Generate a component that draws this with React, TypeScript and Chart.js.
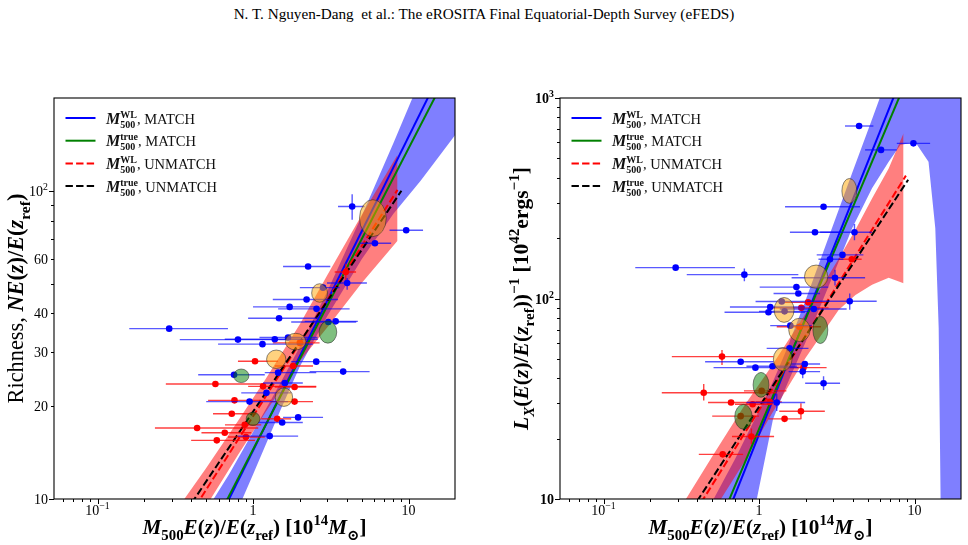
import { useEffect, useRef } from 'react';
import { Chart, registerables } from 'chart.js';

Chart.register(...registerables);

const SERIF = "'Liberation Serif', 'DejaVu Serif', serif";

// ---------- shared mass axis ----------
const massMin = 0.0525;
const massMax = 19.9;
const massMajorTicks = [0.1, 1, 10];
const massMinorTicks = [0.06, 0.07, 0.08, 0.09, 0.2, 0.3, 0.4, 0.5, 0.6, 0.7, 0.8, 0.9, 2, 3, 4, 5, 6, 7, 8, 9];

// ---------- richness panel ----------
const richMin = 10;
const richMax = 200;
const richMajorTicks = [10, 100];
const richMinorTicks = [20, 30, 40, 50, 60, 70, 80, 90];
const richTickLabels = [10, 20, 30, 40, 60, 100];

// matched clusters: M500 (WL) and richness
const richMatchM = [4.34, 9.66, 6.08, 2.26, 4.03, 2.21, 1.72, 2.56, 1.47, 3.05, 3.4, 0.289, 0.8, 1.38, 1.15, 2.82, 0.755, 1.45, 3.8, 2.55, 1.6, 1.22, 0.95, 1.95, 1.54, 1.28, 1.68];
const richMatchN = [88.9, 74.5, 67.6, 56.8, 50.2, 44.4, 42.0, 41.4, 38.6, 37.5, 37.7, 35.7, 32.9, 33.0, 31.8, 48.5, 25.3, 25.7, 25.9, 27.9, 23.8, 22.1, 20.7, 18.4, 17.7, 16.0, 33.4];
const richMatchMLo = [3.52, 7.55, 4.84, 1.56, 2.99, 1.34, 1.0, 1.45, 0.93, 1.76, 2.15, 0.16, 0.338, 0.658, 0.596, 2.0, 0.444, 1.19, 2.31, 1.76, 1.16, 0.84, 0.5, 1.56, 1.08, 0.8, 1.1];
const richMatchMHi = [5.21, 12.4, 7.73, 3.14, 5.4, 3.52, 2.49, 4.18, 2.61, 4.61, 4.72, 0.69, 1.68, 2.61, 2.43, 3.6, 1.19, 2.55, 5.62, 3.69, 2.09, 1.76, 1.68, 2.82, 2.09, 1.95, 2.6];
const richMatchNErr = [[80.5, 97.5], null, null, null, [47.7, 52.1], null, null, null, null, null, null, null, null, null, null, null, null, null, null, null, null, null, null, null, null, null, null];

// unmatched clusters
const richUnmM = [3.95, 1.03, 1.81, 0.573, 1.16, 1.85, 0.76, 1.85, 0.73, 1.43, 0.437, 0.885, 0.658, 0.585, 0.9, 2.0];
const richUnmN = [54.5, 28.0, 27.0, 23.6, 23.2, 23.1, 20.9, 20.7, 18.9, 18.2, 17.0, 17.4, 16.4, 15.5, 15.9, 32.1];
const richUnmMLo = [3.35, 0.8, 1.38, 0.275, 0.93, 1.38, 0.514, 1.31, 0.553, 1.13, 0.234, 0.66, 0.466, 0.4, 0.69, 1.34];
const richUnmMHi = [4.6, 1.45, 2.43, 1.19, 2.55, 2.55, 1.31, 2.43, 1.05, 1.76, 1.08, 1.13, 0.975, 1.03, 1.19, 2.68];
const richUnmNErr = [[51, 58], null, null, null, null, null, null, null, null, null, null, null, null, null, null, null];

// fitted relations
const richWLMatchX = [0.05, 20];
const richWLMatchY = [0.68, 303];
const richTrueMatchX = [0.05, 20];
const richTrueMatchY = [0.776, 270];
const richWLUnmX = [0.2, 8.5];
const richWLUnmY = [5.2, 100.7];
const richTrueUnmX = [0.2, 9.0];
const richTrueUnmY = [5.73, 100];

// credible bands
const richBandMatchX = [0.3, 0.5, 0.7, 1, 1.5, 2, 3, 5, 8, 12, 20];
const richBandMatchLo = [2.99, 5.4, 7.94, 12.0, 19.4, 26.9, 39.2, 60.0, 84.3, 108, 152];
const richBandMatchHi = [5.97, 9.16, 12.0, 16.5, 23.8, 31.2, 47.1, 82.8, 143, 232, 438];
const richBandUnmX = [0.2, 0.35, 0.5, 0.8, 1.2, 2, 3, 5, 8.5];
const richBandUnmLo = [4.45, 7.08, 9.48, 13.9, 19.1, 28.0, 36.0, 50.2, 68.9];
const richBandUnmHi = [6.43, 9.77, 12.6, 17.9, 24.4, 36.9, 53.2, 83.4, 131];

// stacked mean ellipses (centre, half-extent in dex)
const richOrangeM = [5.9, 2.68, 1.88, 1.41, 1.58];
const richOrangeN = [81.5, 46.6, 32.4, 28.4, 21.4];
const richOrangeDM = [0.086, 0.051, 0.066, 0.062, 0.056];
const richOrangeDN = [0.06, 0.03, 0.027, 0.03, 0.03];
const richGreenM = [3.03, 0.84, 1.0];
const richGreenN = [34.8, 25.1, 18.2];
const richGreenDM = [0.057, 0.049, 0.044];
const richGreenDN = [0.036, 0.022, 0.022];

// ---------- luminosity panel ----------
const lxMin = 10;
const lxMax = 1000;
const lxMajorTicks = [10, 100, 1000];
const lxMinorTicks = [20, 30, 40, 50, 60, 70, 80, 90, 200, 300, 400, 500, 600, 700, 800, 900];
const lxTickLabels = [10, 100, 1000];

const lxMatchM = [4.4, 9.84, 6.09, 2.6, 2.29, 4.11, 3.44, 2.86, 0.291, 0.805, 3.08, 1.74, 1.79, 3.83, 1.18, 2.25, 1.15, 1.59, 1.57, 0.762, 0.948, 1.22, 1.97, 1.91, 2.6, 1.3, 1.4, 1.46];
const lxMatchL = [725, 594, 551, 287, 214, 214, 165, 157, 142.5, 131.5, 127, 114, 106, 96.9, 90.7, 88.7, 85.4, 73.2, 56.4, 48.4, 45.2, 45.9, 47.1, 43.2, 37.8, 30.3, 96.6, 86.3];
const lxMatchMLo = [3.57, 7.69, 4.81, 1.47, 1.58, 2.47, 2.35, 2.41, 0.16, 0.343, 1.62, 1.01, 1.24, 2.03, 0.65, 1.36, 0.6, 1.18, 1.12, 0.45, 0.51, 0.83, 1.55, 1.55, 1.98, 0.83, 0.95, 1.0];
const lxMatchMHi = [5.44, 12.6, 7.69, 4.46, 3.32, 5.31, 4.69, 3.49, 0.7, 1.79, 4.81, 2.79, 2.47, 5.71, 1.98, 3.66, 1.98, 2.18, 2.08, 1.24, 1.79, 1.75, 2.47, 2.47, 3.32, 1.98, 2.0, 2.1];
const lxMatchLErr = [null, null, null, null, null, [195, 235], null, null, null, [122, 141], [116, 139], null, null, [88, 106], null, null, null, null, null, null, null, null, null, [40, 47], [35, 41], [27.5, 33.5], null, null];

const lxUnmM = [3.95, 2.07, 1.87, 1.82, 0.578, 1.93, 0.441, 0.661, 0.91, 1.17, 1.86, 1.46, 0.762, 0.893, 0.584, 1.04];
const lxUnmL = [157, 95.7, 89.8, 72.3, 51.3, 45.2, 33.9, 30.3, 29.7, 30.5, 27.4, 25.1, 25.9, 20.5, 16.7, 34.6];
const lxUnmMLo = [3.24, 1.36, 1.2, 1.3, 0.275, 1.58, 0.237, 0.47, 0.7, 0.95, 1.35, 1.15, 0.5, 0.67, 0.41, 0.8];
const lxUnmMHi = [4.57, 2.66, 2.8, 2.5, 1.24, 2.72, 1.3, 1.18, 1.2, 1.4, 2.65, 1.85, 1.0, 1.25, 0.79, 1.5];
const lxUnmLErr = [null, null, null, null, [46.6, 55.3], null, [31, 37.5], null, null, null, [25, 30], null, null, [18.8, 22.5], null, null];

const lxWLMatchX = [0.05, 20];
const lxWLMatchY = [0.062, 7080];
const lxTrueMatchX = [0.05, 20];
const lxTrueMatchY = [0.0914, 5450];
const lxWLUnmX = [0.2, 8.8];
const lxWLUnmY = [3.78, 410];
const lxTrueUnmX = [0.2, 9.1];
const lxTrueUnmY = [4.31, 391];

const lxBandMatchX = [0.3, 0.5, 0.7, 0.97, 1.23, 1.5, 2, 3, 3.97, 5.33, 6.82, 8.11, 10.1, 12.3, 13.6, 14.3, 14.7, 15, 20];
const lxBandMatchLo = [0.64, 1.93, 4.16, 10.1, 25, 36.6, 61, 131, 224, 355, 481, 583, 604, 481, 224, 71, 10.5, 1, 1];
const lxBandMatchHi = [4.5, 9.7, 15.8, 26.3, 38.5, 55.3, 99, 233, 422, 783, 1324, 10000, 10000, 10000, 10000, 10000, 10000, 10000, 10000];
const lxBandUnmX = [0.2, 0.35, 0.5, 0.8, 1.2, 2, 3.25, 4.17, 5.33, 6.82, 8.5];
const lxBandUnmLo = [2.68, 5.48, 8.53, 15.2, 26.4, 50.8, 87.7, 104, 117, 127, 119];
const lxBandUnmHi = [5.34, 10.4, 16.3, 29.0, 45.8, 84.3, 158, 220, 315, 445, 668];

const lxOrangeM = [3.81, 2.33, 1.45, 1.82, 1.42];
const lxOrangeL = [344, 128.5, 87.7, 69.7, 49.8];
const lxOrangeDM = [0.048, 0.075, 0.064, 0.069, 0.06];
const lxOrangeDL = [0.062, 0.058, 0.062, 0.058, 0.058];
const lxGreenM = [2.48, 1.03, 0.794];
const lxGreenL = [69.7, 37.1, 25.7];
const lxGreenDM = [0.048, 0.051, 0.056];
const lxGreenDL = [0.068, 0.062, 0.062];

// ---------- text helpers ----------
type Run = { t?: string; font: string; dy?: number; sup?: string; sub?: string; supDy?: number; subDy?: number };

const fnt = (style: string, size: number) => `${style} ${size}px ${SERIF}`;
const BI = (s: number) => fnt('italic bold', s);
const B = (s: number) => fnt('bold', s);
const R = (s: number) => fnt('normal', s);

function runsWidth(ctx: CanvasRenderingContext2D, runs: Run[]) {
  let w = 0;
  for (const r of runs) {
    ctx.font = r.font;
    if (r.sup !== undefined || r.sub !== undefined) {
      w += Math.max(ctx.measureText(r.sup || '').width, ctx.measureText(r.sub || '').width);
    } else {
      w += ctx.measureText(r.t || '').width;
    }
  }
  return w;
}

function drawRuns(ctx: CanvasRenderingContext2D, runs: Run[], x: number, y: number, align: 'left' | 'center' | 'right') {
  const w = runsWidth(ctx, runs);
  let cx = align === 'center' ? x - w / 2 : align === 'right' ? x - w : x;
  ctx.textAlign = 'left';
  ctx.textBaseline = 'alphabetic';
  for (const r of runs) {
    ctx.font = r.font;
    if (r.sup !== undefined || r.sub !== undefined) {
      ctx.fillText(r.sup || '', cx, y + (r.supDy || 0));
      ctx.fillText(r.sub || '', cx, y + (r.subDy || 0));
      cx += Math.max(ctx.measureText(r.sup || '').width, ctx.measureText(r.sub || '').width);
    } else {
      ctx.fillText(r.t || '', cx, y + (r.dy || 0));
      cx += ctx.measureText(r.t || '').width;
    }
  }
}

function fitRuns(ctx: CanvasRenderingContext2D, build: (s: number) => Run[], base: number, target: number) {
  const w = runsWidth(ctx, build(base));
  return build((base * target) / w);
}

const massTitle = (s: number): Run[] => {
  const k = s * 0.7, lo = s * 0.3, hi = -s * 0.42;
  return [
    { t: 'M', font: BI(s) }, { t: '500', font: B(k), dy: lo },
    { t: 'E', font: BI(s) }, { t: '(', font: B(s) }, { t: 'z', font: BI(s) }, { t: ')/', font: B(s) },
    { t: 'E', font: BI(s) }, { t: '(', font: B(s) }, { t: 'z', font: BI(s) }, { t: 'ref', font: B(k), dy: lo },
    { t: ')', font: B(s) }, { t: ' [10', font: B(s) }, { t: '14', font: B(k), dy: hi },
    { t: 'M', font: BI(s) }, { t: '\u2299', font: B(k), dy: lo }, { t: ']', font: B(s) },
  ];
};

const richTitle = (s: number): Run[] => {
  const k = s * 0.7, lo = s * 0.3;
  return [
    { t: 'Richness, ', font: R(s) }, { t: 'NE', font: BI(s) }, { t: '(', font: B(s) }, { t: 'z', font: BI(s) },
    { t: ')/', font: B(s) }, { t: 'E', font: BI(s) }, { t: '(', font: B(s) }, { t: 'z', font: BI(s) },
    { t: 'ref', font: B(k), dy: lo }, { t: ')', font: B(s) },
  ];
};

const lxTitle = (s: number): Run[] => {
  const k = s * 0.7, lo = s * 0.3, hi = -s * 0.42;
  return [
    { t: 'L', font: BI(s) }, { t: 'X', font: BI(k), dy: lo }, { t: '(', font: B(s) }, { t: 'E', font: BI(s) },
    { t: '(', font: B(s) }, { t: 'z', font: BI(s) }, { t: ')/', font: B(s) }, { t: 'E', font: BI(s) },
    { t: '(', font: B(s) }, { t: 'z', font: BI(s) }, { t: 'ref', font: B(k), dy: lo }, { t: '))', font: B(s) },
    { t: '\u22121', font: B(k), dy: hi }, { t: ' [10', font: B(s) }, { t: '42', font: B(k), dy: hi },
    { t: 'ergs', font: B(s) }, { t: '\u22121', font: B(k), dy: hi }, { t: ']', font: B(s) },
  ];
};

function powerLabel(v: number, font: (s: number) => string, s: number): Run[] {
  const e = Math.round(Math.log10(v));
  if (Math.abs(Math.log10(v) - e) > 1e-9 || e === 0 || e === 1) {
    return [{ t: String(v), font: font(s) }];
  }
  return [{ t: '10', font: font(s) }, { t: e < 0 ? '\u2212' + -e : String(e), font: font(s * 0.7), dy: -s * 0.42 }];
}

// ---------- chart construction ----------
const xy = (xs: number[], ys: number[]) => xs.map((x, i) => ({ x, y: ys[i] }));

function makeConfig(p: any): any {
  const band = (xs: number[], hi: number[], lo: number[], color: string, order: number) => [
    { data: xy(xs, hi), fill: '+1', backgroundColor: color, borderColor: 'rgba(0,0,0,0)', borderWidth: 0, pointRadius: 0, order },
    { data: xy(xs, lo), fill: false, borderColor: 'rgba(0,0,0,0)', borderWidth: 0, pointRadius: 0, order: order - 1 },
  ];
  const fitLine = (xs: number[], ys: number[], color: string, dash: number[], order: number) => ({
    data: xy(xs, ys), borderColor: color, borderWidth: 2, borderDash: dash, pointRadius: 0, fill: false, order,
  });
  const points = (m: number[], v: number[], lo: number[], hi: number[], verr: any[], color: string, barColor: string, order: number) => ({
    data: xy(m, v), showLine: false, pointRadius: 3.3, pointBackgroundColor: color, pointBorderWidth: 0,
    pointBorderColor: color, order, errorBars: { lo, hi, verr, color: barColor },
  });
  const deco = {
    id: 'deco',
    beforeDatasetDraw(chart: any, args: any) {
      const ds = chart.data.datasets[args.index];
      if (!ds.errorBars) return;
      const { lo, hi, verr, color } = ds.errorBars;
      const xs = chart.scales.x, ys = chart.scales.y, a = chart.chartArea, ctx = chart.ctx;
      ctx.save();
      ctx.beginPath();
      ctx.rect(a.left, a.top, a.right - a.left, a.bottom - a.top);
      ctx.clip();
      ctx.strokeStyle = color;
      ctx.lineWidth = 1.4;
      ds.data.forEach((d: any, i: number) => {
        const px = xs.getPixelForValue(d.x), py = ys.getPixelForValue(d.y);
        ctx.beginPath();
        ctx.moveTo(xs.getPixelForValue(lo[i]), py);
        ctx.lineTo(xs.getPixelForValue(hi[i]), py);
        if (verr[i]) {
          ctx.moveTo(px, ys.getPixelForValue(verr[i][0]));
          ctx.lineTo(px, ys.getPixelForValue(verr[i][1]));
        }
        ctx.stroke();
      });
      ctx.restore();
    },
    afterDatasetsDraw(chart: any) {
      const xs = chart.scales.x, ys = chart.scales.y, a = chart.chartArea, ctx = chart.ctx;
      ctx.save();
      ctx.beginPath();
      ctx.rect(a.left, a.top, a.right - a.left, a.bottom - a.top);
      ctx.clip();
      const ell = (m: number[], v: number[], dm: number[], dv: number[], fill: string) => {
        m.forEach((mm, i) => {
          const fm = Math.pow(10, dm[i]), fv = Math.pow(10, dv[i]);
          const x0 = xs.getPixelForValue(mm / fm), x1 = xs.getPixelForValue(mm * fm);
          const y0 = ys.getPixelForValue(v[i] / fv), y1 = ys.getPixelForValue(v[i] * fv);
          ctx.beginPath();
          ctx.ellipse((x0 + x1) / 2, (y0 + y1) / 2, Math.abs(x1 - x0) / 2, Math.abs(y1 - y0) / 2, 0, 0, Math.PI * 2);
          ctx.fillStyle = fill;
          ctx.fill();
          ctx.strokeStyle = 'rgba(40,40,40,0.55)';
          ctx.lineWidth = 1;
          ctx.stroke();
        });
      };
      ell(p.orange.m, p.orange.v, p.orange.dm, p.orange.dv, 'rgba(255,165,0,0.5)');
      ell(p.green.m, p.green.v, p.green.dm, p.green.dv, 'rgba(0,128,0,0.5)');
      ctx.restore();
    },
    afterDraw(chart: any) {
      const xs = chart.scales.x, ys = chart.scales.y, a = chart.chartArea, ctx = chart.ctx;
      ctx.save();
      ctx.fillStyle = '#000';
      ctx.strokeStyle = '#000';
      // frame
      ctx.lineWidth = 1.1;
      ctx.strokeRect(a.left, a.top, a.right - a.left, a.bottom - a.top);
      // ticks
      ctx.lineWidth = 1;
      const xt = (vals: number[], len: number) => vals.forEach((v) => {
        const px = Math.round(xs.getPixelForValue(v)) + 0.5;
        ctx.beginPath(); ctx.moveTo(px, a.bottom); ctx.lineTo(px, a.bottom + len); ctx.stroke();
      });
      const yt = (vals: number[], len: number) => vals.forEach((v) => {
        const py = Math.round(ys.getPixelForValue(v)) + 0.5;
        ctx.beginPath(); ctx.moveTo(a.left, py); ctx.lineTo(a.left - len, py); ctx.stroke();
      });
      xt(massMajorTicks, 5); xt(massMinorTicks, 3);
      yt(p.yMajor, 5); yt(p.yMinor, 3);
      // tick labels
      massMajorTicks.forEach((v) => drawRuns(ctx, powerLabel(v, R, 14), xs.getPixelForValue(v), a.bottom + 16, 'center'));
      p.yLabels.forEach((v: number) => drawRuns(ctx, powerLabel(v, p.yLabelBold ? B : R, 14), a.left - 6, ys.getPixelForValue(v) + 5, 'right'));
      // axis titles
      const cx = (a.left + a.right) / 2, cy = (a.top + a.bottom) / 2;
      drawRuns(ctx, fitRuns(ctx, massTitle, 17, 224), cx, 534, 'center');
      ctx.save();
      ctx.translate(p.yTitleX, cy);
      ctx.rotate(-Math.PI / 2);
      drawRuns(ctx, fitRuns(ctx, p.yTitle, 17, p.yTitleWidth), 0, 0, 'center');
      ctx.restore();
      // legend
      const entries = [
        { sup: 'WL', tag: 'MATCH', color: '#0000ff', dash: [] as number[] },
        { sup: 'true', tag: 'MATCH', color: '#008000', dash: [] as number[] },
        { sup: 'WL', tag: 'UNMATCH', color: '#ff0000', dash: [7.4, 3.2] },
        { sup: 'true', tag: 'UNMATCH', color: '#000000', dash: [7.4, 3.2] },
      ];
      entries.forEach((e, i) => {
        const y = a.top + 20 + i * 22.7;
        ctx.save();
        ctx.strokeStyle = e.color;
        ctx.lineWidth = 2;
        ctx.setLineDash(e.dash);
        ctx.beginPath(); ctx.moveTo(a.left + 11.5, y); ctx.lineTo(a.left + 41.5, y); ctx.stroke();
        ctx.restore();
        ctx.fillStyle = '#111';
        drawRuns(ctx, [
          { t: 'M', font: BI(16) },
          { sup: e.sup, sub: '500', font: B(10), supDy: -6, subDy: 4 },
          { t: ', ' + e.tag, font: R(14.5) },
        ], a.left + 52, y + 5.5, 'left');
      });
      ctx.restore();
    },
  };

  return {
    type: 'line',
    data: {
      datasets: [
        ...band(p.bandMatch.x, p.bandMatch.hi, p.bandMatch.lo, 'rgba(0,0,255,0.5)', 41),
        ...band(p.bandUnm.x, p.bandUnm.hi, p.bandUnm.lo, 'rgba(255,0,0,0.5)', 39),
        fitLine(p.wlMatch.x, p.wlMatch.y, '#0000ff', [], 30),
        fitLine(p.trueMatch.x, p.trueMatch.y, '#008000', [], 29),
        fitLine(p.wlUnm.x, p.wlUnm.y, '#ff0000', [7.4, 3.2], 28),
        fitLine(p.trueUnm.x, p.trueUnm.y, '#000000', [7.4, 3.2], 27),
        points(p.unm.m, p.unm.v, p.unm.lo, p.unm.hi, p.unm.verr, '#ff0000', 'rgba(255,0,0,0.75)', 11),
        points(p.match.m, p.match.v, p.match.lo, p.match.hi, p.match.verr, '#0000ff', 'rgba(0,0,255,0.65)', 10),
      ],
    },
    options: {
      animation: false,
      responsive: false,
      devicePixelRatio: 1,
      events: [],
      layout: { autoPadding: false, padding: { top: 98, left: 0, right: p.padRight, bottom: 0 } },
      plugins: { legend: { display: false }, tooltip: { enabled: false } },
      scales: {
        x: {
          type: 'logarithmic', min: massMin, max: massMax,
          grid: { display: false }, border: { display: false }, ticks: { display: false },
          afterFit: (s: any) => { s.height = 46; },
        },
        y: {
          type: 'logarithmic', min: p.yMin, max: p.yMax,
          grid: { display: false }, border: { display: false }, ticks: { display: false },
          afterFit: (s: any) => { s.width = p.yAxisWidth; },
        },
      },
    },
    plugins: [deco],
  };
}

const richPanel = {
  yMin: richMin, yMax: richMax, yMajor: richMajorTicks, yMinor: richMinorTicks, yLabels: richTickLabels, yLabelBold: false,
  match: { m: richMatchM, v: richMatchN, lo: richMatchMLo, hi: richMatchMHi, verr: richMatchNErr },
  unm: { m: richUnmM, v: richUnmN, lo: richUnmMLo, hi: richUnmMHi, verr: richUnmNErr },
  bandMatch: { x: richBandMatchX, lo: richBandMatchLo, hi: richBandMatchHi },
  bandUnm: { x: richBandUnmX, lo: richBandUnmLo, hi: richBandUnmHi },
  wlMatch: { x: richWLMatchX, y: richWLMatchY },
  trueMatch: { x: richTrueMatchX, y: richTrueMatchY },
  wlUnm: { x: richWLUnmX, y: richWLUnmY },
  trueUnm: { x: richTrueUnmX, y: richTrueUnmY },
  orange: { m: richOrangeM, v: richOrangeN, dm: richOrangeDM, dv: richOrangeDN },
  green: { m: richGreenM, v: richGreenN, dm: richGreenDM, dv: richGreenDN },
  yTitle: richTitle, yTitleWidth: 210, yTitleX: 23,
  yAxisWidth: 54, padRight: 29,
};

const lxPanel = {
  yMin: lxMin, yMax: lxMax, yMajor: lxMajorTicks, yMinor: lxMinorTicks, yLabels: lxTickLabels, yLabelBold: true,
  match: { m: lxMatchM, v: lxMatchL, lo: lxMatchMLo, hi: lxMatchMHi, verr: lxMatchLErr },
  unm: { m: lxUnmM, v: lxUnmL, lo: lxUnmMLo, hi: lxUnmMHi, verr: lxUnmLErr },
  bandMatch: { x: lxBandMatchX, lo: lxBandMatchLo, hi: lxBandMatchHi },
  bandUnm: { x: lxBandUnmX, lo: lxBandUnmLo, hi: lxBandUnmHi },
  wlMatch: { x: lxWLMatchX, y: lxWLMatchY },
  trueMatch: { x: lxTrueMatchX, y: lxTrueMatchY },
  wlUnm: { x: lxWLUnmX, y: lxWLUnmY },
  trueUnm: { x: lxTrueUnmX, y: lxTrueUnmY },
  orange: { m: lxOrangeM, v: lxOrangeL, dm: lxOrangeDM, dv: lxOrangeDL },
  green: { m: lxGreenM, v: lxGreenL, dm: lxGreenDM, dv: lxGreenDL },
  yTitle: lxTitle, yTitleWidth: 263, yTitleX: 44,
  yAxisWidth: 76, padRight: 7,
};

export default function App() {
  const leftRef = useRef<HTMLCanvasElement>(null);
  const rightRef = useRef<HTMLCanvasElement>(null);

  useEffect(() => {
    document.body.style.margin = '0';
    const left = new Chart(leftRef.current as HTMLCanvasElement, makeConfig(richPanel));
    const right = new Chart(rightRef.current as HTMLCanvasElement, makeConfig(lxPanel));
    return () => {
      left.destroy();
      right.destroy();
    };
  }, []);

  return (
    <div style={{ position: 'relative', width: 968, height: 545, background: '#fff', overflow: 'hidden' }}>
      <div
        style={{
          position: 'absolute', left: 0, top: 5, width: 968, textAlign: 'center',
          font: `15.2px ${SERIF}`, whiteSpace: 'pre', color: '#000', lineHeight: '18px',
        }}
      >
        {'N. T. Nguyen-Dang  et al.: The eROSITA Final Equatorial-Depth Survey (eFEDS)'}
      </div>
      <canvas ref={leftRef} width={484} height={545} style={{ position: 'absolute', left: 0, top: 0, width: 484, height: 545 }} />
      <canvas ref={rightRef} width={484} height={545} style={{ position: 'absolute', left: 484, top: 0, width: 484, height: 545 }} />
    </div>
  );
}
